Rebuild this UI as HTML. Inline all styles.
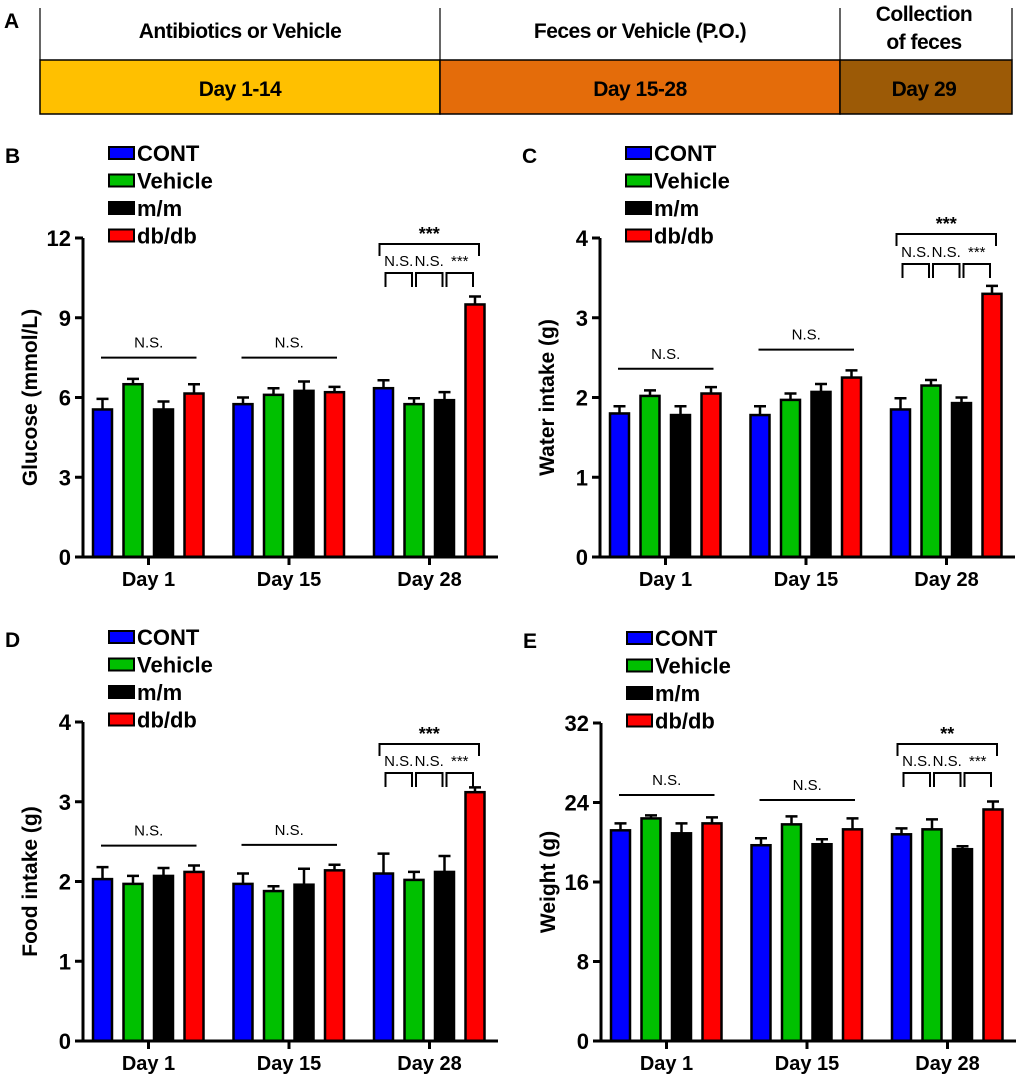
<!DOCTYPE html>
<html><head><meta charset="utf-8">
<style>
body{margin:0;background:#fff;}
svg{display:block;font-family:"Liberation Sans",Arial,sans-serif;}
</style></head>
<body>
<svg id="fig" width="1020" height="1083" viewBox="0 0 1020 1083" xmlns="http://www.w3.org/2000/svg">
 <g>
  <text x="4" y="28" font-size="21" font-weight="bold">A</text>
  <rect x="40" y="60" width="400" height="54" fill="#FFC000" stroke="#000" stroke-width="1.5"/>
  <rect x="440" y="60" width="400" height="54" fill="#E46C0A" stroke="#000" stroke-width="1.5"/>
  <rect x="840" y="60" width="172" height="54" fill="#9C5A06" stroke="#000" stroke-width="1.5"/>
  <line x1="40" y1="8" x2="40" y2="60" stroke="#000" stroke-width="1.2"/>
  <line x1="440" y1="8" x2="440" y2="60" stroke="#000" stroke-width="1.2"/>
  <line x1="840" y1="8" x2="840" y2="60" stroke="#000" stroke-width="1.2"/>
  <line x1="1012" y1="8" x2="1012" y2="60" stroke="#000" stroke-width="1.2"/>
  <g font-weight="bold" font-size="21" text-anchor="middle" letter-spacing="-0.5">
   <text x="240" y="38">Antibiotics or Vehicle</text>
   <text x="640" y="38">Feces or Vehicle (P.O.)</text>
   <text x="924" y="21">Collection</text>
   <text x="924" y="49">of feces</text>
   <text x="240" y="96">Day 1-14</text>
   <text x="640" y="96">Day 15-28</text>
   <text x="924" y="96">Day 29</text>
  </g>
 </g>
</svg>
<script>
const categories = ["Day 1","Day 15","Day 28"];
const seriesNames = ["CONT","Vehicle","m/m","db/db"];
const glucoseVals = [[5.55,5.75,6.35],[6.5,6.1,5.75],[5.55,6.25,5.9],[6.15,6.2,9.5]];
const glucoseErr  = [[0.4,0.25,0.3],[0.2,0.25,0.22],[0.3,0.35,0.3],[0.35,0.2,0.3]];
const glucoseTicks = [0,3,6,9,12];
const waterVals = [[1.8,1.78,1.85],[2.02,1.97,2.15],[1.78,2.07,1.93],[2.05,2.25,3.3]];
const waterErr  = [[0.09,0.11,0.14],[0.07,0.08,0.07],[0.11,0.1,0.07],[0.08,0.09,0.1]];
const waterTicks = [0,1,2,3,4];
const foodVals = [[2.03,1.97,2.1],[1.97,1.88,2.02],[2.07,1.96,2.12],[2.12,2.14,3.12]];
const foodErr  = [[0.15,0.13,0.25],[0.1,0.06,0.1],[0.1,0.2,0.2],[0.08,0.07,0.06]];
const foodTicks = [0,1,2,3,4];
const weightVals = [[21.2,19.7,20.8],[22.4,21.8,21.3],[20.9,19.8,19.3],[21.9,21.3,23.3]];
const weightErr  = [[0.7,0.7,0.6],[0.3,0.8,1.0],[1.0,0.5,0.3],[0.6,1.1,0.8]];
const weightTicks = [0,8,16,24,32];
const nsLevels = {B:[7.5,7.5],C:[2.36,2.6],D:[2.45,2.46],E:[24.75,24.25]};

const colors=["#0000FF","#00C000","#000000","#FF0000"];
const NS="http://www.w3.org/2000/svg";
const svg=document.getElementById('fig');
function mk(tag,attrs,parent,text){const e=document.createElementNS(NS,tag);for(const k in attrs)e.setAttribute(k,attrs[k]);if(text!==undefined)e.textContent=text;(parent||svg).appendChild(e);return e;}

function panel(cfg){
  const g=mk('g',{});
  
  
  const ax=cfg.ax,y0=cfg.y0,yt=cfg.yt,max=cfg.ticks[cfg.ticks.length-1];
  const Y=v=>y0-(v/max)*(y0-yt);
  const X=(gi,si)=>ax+10+gi*140.5+si*30.5;
  const bw=19;
  const lab=mk('text',{x:cfg.ax-78,y:cfg.yt-75,'font-size':21,'font-weight':'bold'},g,cfg.label);
  
  
  seriesNames.forEach((n,i)=>{
    const ly=cfg.yt-85+i*27.5;
    const lg=mk('g',{},g);
    
    
    mk('rect',{x:ax+26,y:ly-6,width:25,height:12,fill:colors[i],stroke:'#000','stroke-width':2},lg);
    mk('text',{x:ax+54,y:ly+8,'font-size':22,'font-weight':'bold'},lg,n);
  });
  cfg.vals.forEach((ser,si)=>{ser.forEach((v,gi)=>{
    const x=X(gi,si),e=cfg.err[si][gi];
    const eb=mk('path',{d:`M${x+bw/2},${Y(v)}V${Y(v+e)}M${x+bw/2-6},${Y(v+e)}H${x+bw/2+6}`,stroke:'#000','stroke-width':2.5,fill:'none'},g);
    
    
    const r=mk('rect',{x:x,y:Y(v),width:bw,height:y0-Y(v),fill:colors[si],stroke:'#000','stroke-width':2.5},g);
    
    
  });});
  const yax=mk('path',{d:`M${ax},${yt}V${y0}H${ax+415}`,stroke:'#000','stroke-width':3,fill:'none'},g);
  
  
  cfg.ticks.forEach(t=>{
    mk('line',{x1:ax-8,x2:ax,y1:Y(t),y2:Y(t),stroke:'#000','stroke-width':3},g);
    const tl=mk('text',{x:ax-12,y:Y(t)+8,'font-size':22,'font-weight':'bold','text-anchor':'end'},g,t);
    
    
  });
  categories.forEach((c,gi)=>{
    const cx=X(gi,0)+55.5;
    mk('line',{x1:cx,x2:cx,y1:y0,y2:y0+8,stroke:'#000','stroke-width':3},g);
    const cl=mk('text',{x:cx,y:y0+29,'font-size':20,'font-weight':'bold','text-anchor':'middle'},g,c);
    
    
  });
  const tt=mk('text',{transform:`translate(${ax-46},${(y0+yt)/2}) rotate(-90)`,'font-size':21,'font-weight':'bold','text-anchor':'middle'},g,cfg.title);
  
  
  cfg.ns.forEach((lv,gi)=>{
    const x1=X(gi,0)+8,x2=X(gi,3)+12,yy=Y(lv);
    mk('line',{x1:x1,x2:x2,y1:yy,y2:yy,stroke:'#000','stroke-width':2},g);
    const nt=mk('text',{x:(x1+x2)/2,y:yy-10,'font-size':15,'text-anchor':'middle'},g,'N.S.');
    
    
  });
  const bx=i=>X(2,i)+bw/2, tb=cfg.br[0], sb=cfg.br[1];
  mk('path',{d:`M${bx(0)-4},${tb+12}V${tb}H${bx(3)+4}V${tb+12}`,stroke:'#000','stroke-width':2,fill:'none'},g);
  const st=mk('text',{x:(bx(0)+bx(3))/2,y:tb-4,'font-size':18,'font-weight':'bold','text-anchor':'middle'},g,cfg.star);
  
  
  for(let i=0;i<3;i++){
    mk('path',{d:`M${bx(i)+2},${sb+14}V${sb}H${bx(i+1)-2}V${sb+14}`,stroke:'#000','stroke-width':2,fill:'none'},g);
    const pt=mk('text',{x:(bx(i)+bx(i+1))/2,y:sb-7,'font-size':15,'text-anchor':'middle'},g,i<2?'N.S.':'***');
    
    
  }
}
panel({label:'B',ax:83,y0:557,yt:238,ticks:glucoseTicks,vals:glucoseVals,err:glucoseErr,title:'Glucose (mmol/L)',ns:nsLevels.B,br:[244,273],star:'***'});
panel({label:'C',ax:600,y0:557,yt:238,ticks:waterTicks,vals:waterVals,err:waterErr,title:'Water intake (g)',ns:nsLevels.C,br:[234,264],star:'***'});
panel({label:'D',ax:83,y0:1041,yt:722,ticks:foodTicks,vals:foodVals,err:foodErr,title:'Food intake (g)',ns:nsLevels.D,br:[744,773],star:'***'});
panel({label:'E',ax:601,y0:1041,yt:723,ticks:weightTicks,vals:weightVals,err:weightErr,title:'Weight (g)',ns:nsLevels.E,br:[744,773],star:'**'});
</script>
</body></html>
